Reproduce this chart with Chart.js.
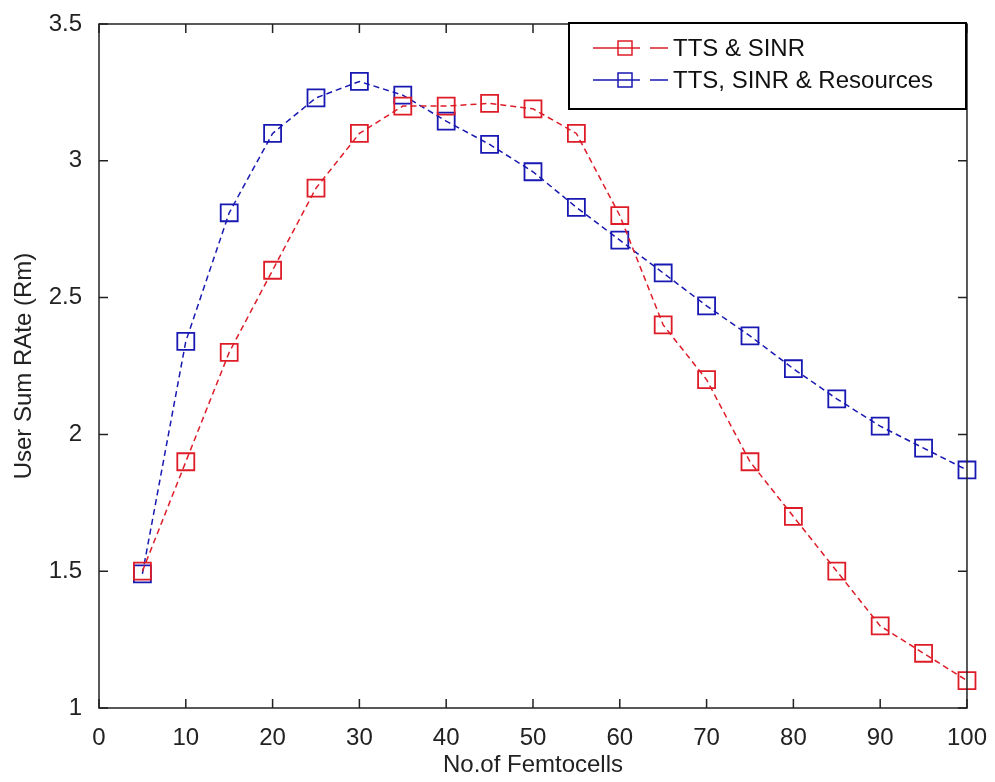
<!DOCTYPE html>
<html>
<head>
<meta charset="utf-8">
<script src="https://cdn.jsdelivr.net/npm/chart.js@4"></script>
<style>
  html, body { margin: 0; padding: 0; background: #fff; }
  #wrap { width: 995px; height: 782px; }
</style>
</head>
<body>
<div id="wrap"><canvas id="chart"></canvas></div>
<script>
// femtocell counts on the x axis
const femtocells = [5, 10, 15, 20, 25, 30, 35, 40, 45, 50, 55, 60, 65, 70, 75, 80, 85, 90, 95, 100];
const ttsSinr = [1.5, 1.9, 2.3, 2.6, 2.9, 3.1, 3.2, 3.2, 3.21, 3.19, 3.1, 2.8, 2.4, 2.2, 1.9, 1.7, 1.5, 1.3, 1.2, 1.1];
const ttsSinrRes = [1.49, 2.34, 2.81, 3.1, 3.23, 3.29, 3.24, 3.145, 3.06, 2.96, 2.83, 2.71, 2.59, 2.47, 2.36, 2.24, 2.13, 2.03, 1.95, 1.87];
const xTicks = [0, 10, 20, 30, 40, 50, 60, 70, 80, 90, 100];
const yTicks = [1, 1.5, 2, 2.5, 3, 3.5];
const seriesNames = ['TTS & SINR', 'TTS, SINR & Resources'];

const RED = 'rgb(222,28,40)';
const BLUE = 'rgb(24,24,178)';
const FONT = 'Liberation Sans, Arial, sans-serif';

// matlab style box, inward ticks and legend
const matlabAxes = {
    id: 'matlabAxes',
    afterDraw(chart) {
        const ctx = chart.ctx;
        const a = chart.chartArea;
        const xs = chart.scales.x, ys = chart.scales.y;
        ctx.save();
        ctx.strokeStyle = '#222';
        ctx.lineWidth = 1.5;
        ctx.strokeRect(a.left, a.top, a.right - a.left, a.bottom - a.top);
        ctx.beginPath();
        xTicks.forEach(v => {
            const px = xs.getPixelForValue(v);
            ctx.moveTo(px, a.bottom); ctx.lineTo(px, a.bottom - 9);
            ctx.moveTo(px, a.top); ctx.lineTo(px, a.top + 9);
        });
        yTicks.forEach(v => {
            const py = ys.getPixelForValue(v);
            ctx.moveTo(a.left, py); ctx.lineTo(a.left + 9, py);
            ctx.moveTo(a.right, py); ctx.lineTo(a.right - 9, py);
        });
        ctx.stroke();

        // legend
        const lx = 569, ly = 23, lw = 397, lh = 86;
        ctx.fillStyle = '#fff';
        ctx.fillRect(lx, ly, lw, lh);
        ctx.strokeStyle = '#000';
        ctx.lineWidth = 2;
        ctx.strokeRect(lx, ly, lw, lh);
        ctx.font = '24px ' + FONT;
        ctx.textBaseline = 'middle';
        chart.data.datasets.forEach((ds, i) => {
            const y = ly + 25 + i * 32;
            ctx.strokeStyle = ds.borderColor;
            ctx.lineWidth = 1.5;
            ctx.beginPath();
            ctx.moveTo(593, y); ctx.lineTo(640, y);
            ctx.moveTo(650, y); ctx.lineTo(668, y);
            ctx.stroke();
            ctx.strokeRect(618, y - 7, 14, 14);
            ctx.fillStyle = '#111';
            ctx.fillText(ds.label, 673, y + 1);
        });
        ctx.restore();
    }
};

new Chart(document.getElementById('chart'), {
    type: 'line',
    data: {
        labels: femtocells,
        datasets: [
            {
                label: seriesNames[0],
                data: femtocells.map((x, i) => ({ x: x, y: ttsSinr[i] })),
                borderColor: RED,
                backgroundColor: 'rgba(0,0,0,0)',
                borderWidth: 1.5,
                borderDash: [6, 4],
                pointStyle: 'rect',
                pointRadius: 12,
                pointBorderWidth: 1.8,
                pointBorderColor: RED,
                clip: false,
                tension: 0
            },
            {
                label: seriesNames[1],
                data: femtocells.map((x, i) => ({ x: x, y: ttsSinrRes[i] })),
                borderColor: BLUE,
                backgroundColor: 'rgba(0,0,0,0)',
                borderWidth: 1.5,
                borderDash: [6, 4],
                pointStyle: 'rect',
                pointRadius: 12,
                pointBorderWidth: 1.8,
                pointBorderColor: BLUE,
                clip: false,
                tension: 0
            }
        ]
    },
    options: {
        responsive: true,
        maintainAspectRatio: false,
        animation: false,
        layout: { padding: { top: 24, right: 26, left: 0, bottom: 0 } },
        plugins: {
            legend: { display: false },
            tooltip: { enabled: false }
        },
        scales: {
            x: {
                type: 'linear',
                min: 0,
                max: 100,
                afterFit: s => { s.height = 74; },
                afterBuildTicks: s => { s.ticks = xTicks.map(v => ({ value: v })); },
                grid: { display: false },
                border: { display: false },
                ticks: { color: '#222', font: { family: FONT, size: 24 }, padding: 8, maxRotation: 0, callback: v => String(v) },
                title: { display: true, text: 'No.of Femtocells', color: '#222', font: { family: FONT, size: 24 }, padding: { top: 0, bottom: 2 } }
            },
            y: {
                min: 1,
                max: 3.5,
                afterFit: s => { s.width = 99; },
                afterBuildTicks: s => { s.ticks = yTicks.map(v => ({ value: v })); },
                grid: { display: false },
                border: { display: false },
                ticks: { color: '#222', font: { family: FONT, size: 24 }, padding: 9, callback: v => String(v) },
                title: { display: true, text: 'User Sum RAte (Rm)', color: '#222', font: { family: FONT, size: 24 }, padding: { top: 10, bottom: 0 } }
            }
        }
    },
    plugins: [matlabAxes]
});
</script>
</body>
</html>
